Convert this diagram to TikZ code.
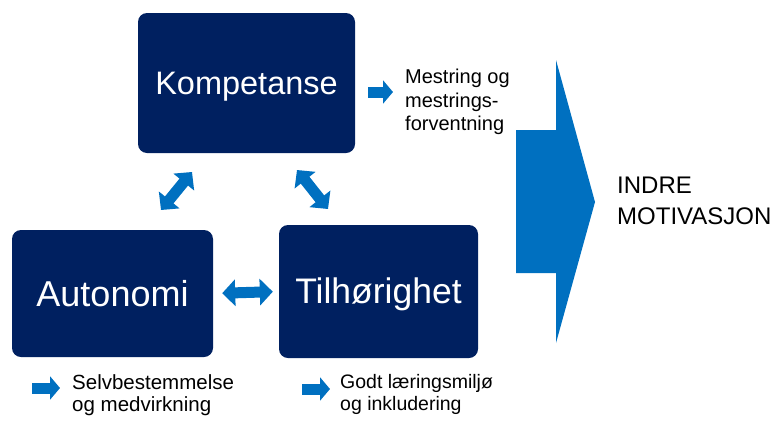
\documentclass[tikz,border=0pt]{standalone}
\usepackage{fontspec}
\setmainfont{Liberation Sans}
\usetikzlibrary{arrows.meta}
\definecolor{navy}{RGB}{0,32,96}
\definecolor{arrowblue}{RGB}{0,112,192}
\tikzset{
  box/.style={fill=navy, rounded corners=9pt, text=white, inner sep=0pt, text depth=0pt},
  dbl/.style={draw=arrowblue, line width=11pt, {Triangle[length=13pt,width=26pt]}-{Triangle[length=13pt,width=26pt]}},
  sarrow/.style={draw=arrowblue, line width=11pt, -{Triangle[length=10pt,width=23pt]}},
  lbl/.style={anchor=north west, align=left, inner sep=0pt, text=black},
}
\begin{document}
\begin{tikzpicture}[x=1pt,y=-1pt]
\useasboundingbox (0,0) rectangle (774,421);
% big arrow
\fill[arrowblue] (516,130) -- (556,130) -- (556,60) -- (595,202) -- (556,343) -- (556,273) -- (516,273) -- cycle;
% boxes
\node[box, minimum width=217pt, minimum height=140pt, text height=23pt, font=\fontsize{32.5}{38}\selectfont] (komp) at (246.5,83) {Kompetanse};
\node[box, minimum width=201pt, minimum height=127pt, text height=25pt, font=\fontsize{36}{42}\selectfont] (auto) at (112.5,293.5) {Autonomi};
\node[box, minimum width=199pt, minimum height=133pt, text height=24pt, font=\fontsize{35.5}{42}\selectfont] (tilh) at (378.5,291.5) {Tilhørighet};
% double arrows
\coordinate (ul1) at (161,210);
\coordinate (ul2) at (192,172);
\coordinate (ur1) at (297,170);
\coordinate (ur2) at (328,209);
\draw[dbl] (ul1) -- (ul2);
\draw[dbl] (ur1) -- (ur2);
\draw[dbl, shorten <=9pt, shorten >=6pt] (auto.east) -- (tilh.west);
% small arrows
\coordinate (s1a) at (368,92);
\coordinate (s1b) at (393,92);
\coordinate (s2a) at (32,388);
\coordinate (s2b) at (60,388);
\coordinate (s3a) at (302,389);
\coordinate (s3b) at (330,389);
\draw[sarrow] (s1a) -- (s1b);
\draw[sarrow] (s2a) -- (s2b);
\draw[sarrow] (s3a) -- (s3b);
% labels
\node[lbl, font=\fontsize{20}{23.5}\selectfont] (mest) at (405,69) {Mestring og\\mestrings-\\forventning};
\node[lbl, font=\fontsize{20.5}{22}\selectfont] (selv) at (72,374) {Selvbestemmelse\\og medvirkning};
\node[lbl, font=\fontsize{19.5}{22}\selectfont] (godt) at (340,374) {Godt læringsmiljø\\og inkludering};
\node[lbl, font=\fontsize{24}{31}\selectfont] (indre) at (617,177) {INDRE\\MOTIVASJON};
\end{tikzpicture}
\end{document}
